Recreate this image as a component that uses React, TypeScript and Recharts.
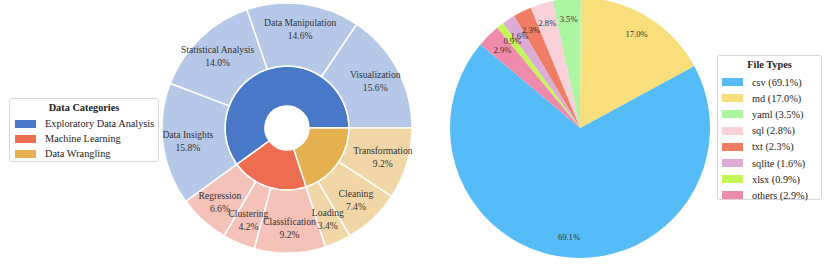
import React from 'react';
import { PieChart, Pie, Cell } from 'recharts';

// left sunburst: inner ring categories
const categoryNames = ['Exploratory Data Analysis', 'Machine Learning', 'Data Wrangling'];
const categoryValues = [60.0, 20.0, 20.0];
const categoryColors = ['#4a78c9', '#ee6d50', '#e4b050'];
const categoryLight = ['#b5c8e8', '#f5c2b8', '#f1d7a8'];

// left sunburst: outer ring, counterclockwise from 3 o'clock
const subNames = [
  'Visualization', 'Data Manipulation', 'Statistical Analysis', 'Data Insights',
  'Regression', 'Clustering', 'Classification',
  'Loading', 'Cleaning', 'Transformation'
];
const subValues = [15.6, 14.6, 14.0, 15.8, 6.6, 4.2, 9.2, 3.4, 7.4, 9.2];
const subParent = [0, 0, 0, 0, 1, 1, 1, 2, 2, 2];

// right pie: file types
const fileTypes = ['csv', 'md', 'yaml', 'sql', 'txt', 'sqlite', 'xlsx', 'others'];
const fileShares = [69.1, 17.0, 3.5, 2.8, 2.3, 1.6, 0.9, 2.9];
const fileColors = ['#56bcf8', '#f9de7c', '#aef5a1', '#f8d1d9', '#ee7d63', '#dcabd6', '#c3f657', '#ee8bab'];

const catData = categoryNames.map((name, i) => ({ name, value: categoryValues[i] }));
const subData = subNames.map((name, i) => ({ name, value: subValues[i] }));
const fileData = fileTypes.map((name, i) => ({ name, value: fileShares[i] }));

const RAD = Math.PI / 180;
const serif = '"Liberation Serif", "DejaVu Serif", serif';

const subLabel = (p: any) => {
  const r = 100;
  const x = p.cx + r * Math.cos(-p.midAngle * RAD);
  const y = p.cy + r * Math.sin(-p.midAngle * RAD);
  return (
    <text x={x} y={y} textAnchor="middle" fill="#333" fontSize={9.6} fontFamily={serif}>
      <tspan x={x} dy={-3}>{p.name}</tspan>
      <tspan x={x} dy={13}>{p.value.toFixed(1)}%</tspan>
    </text>
  );
};

const fileLabel = (p: any) => {
  const r = 110;
  const x = p.cx + r * Math.cos(-p.midAngle * RAD);
  const y = p.cy + r * Math.sin(-p.midAngle * RAD);
  return (
    <text x={x} y={y} textAnchor="middle" dominantBaseline="central" fill="#333" fontSize={8.6} fontFamily={serif}>
      {p.value.toFixed(1)}%
    </text>
  );
};

const legendBox: React.CSSProperties = {
  position: 'absolute',
  background: '#fff',
  border: '1px solid #d6d6d6',
  borderRadius: 3,
  fontFamily: serif,
  fontSize: 10.3,
  color: '#222',
  boxSizing: 'border-box',
};

const LegendRows = ({ names, colors, gap }: { names: string[]; colors: string[]; gap: number }) => (
  <>
    {names.map((n, i) => (
      <div key={n} style={{ display: 'flex', alignItems: 'center', height: gap, whiteSpace: 'nowrap' }}>
        <span style={{ display: 'inline-block', width: 21, height: 8, background: colors[i], marginRight: 9 }} />
        <span>{n}</span>
      </div>
    ))}
  </>
);

export default function App() {
  return (
    <div style={{ position: 'absolute', left: 0, top: 0, width: 830, height: 266, background: '#fff', overflow: 'hidden' }}>
      <PieChart width={830} height={266} margin={{ top: 0, right: 0, bottom: 0, left: 0 }}>
        <Pie
          data={catData}
          dataKey="value"
          cx={287}
          cy={128}
          innerRadius={22}
          outerRadius={62}
          startAngle={0}
          endAngle={360}
          stroke="#fff"
          strokeWidth={1.5}
          isAnimationActive={false}
        >
          {catData.map((d, i) => <Cell key={d.name} fill={categoryColors[i]} />)}
        </Pie>
        <Pie
          data={subData}
          dataKey="value"
          cx={287}
          cy={128}
          innerRadius={62}
          outerRadius={125}
          startAngle={0}
          endAngle={360}
          stroke="#fff"
          strokeWidth={1.5}
          label={subLabel}
          labelLine={false}
          isAnimationActive={false}
        >
          {subData.map((d, i) => <Cell key={d.name} fill={categoryLight[subParent[i]]} />)}
        </Pie>
        <Pie
          data={fileData}
          dataKey="value"
          cx={580}
          cy={128}
          innerRadius={0}
          outerRadius={130}
          startAngle={140}
          endAngle={500}
          stroke="none"
          label={fileLabel}
          labelLine={false}
          isAnimationActive={false}
        >
          {fileData.map((d, i) => <Cell key={d.name} fill={fileColors[i]} />)}
        </Pie>
      </PieChart>

      <div style={{ ...legendBox, left: 9, top: 98, width: 150, height: 64, padding: '2px 0 0 5px' }}>
        <div style={{ fontWeight: 'bold', textAlign: 'center', height: 15, lineHeight: '14px', paddingRight: 5 }}>Data Categories</div>
        <LegendRows names={categoryNames} colors={categoryColors} gap={15} />
      </div>

      <div style={{ ...legendBox, left: 717, top: 55, width: 105, height: 145, padding: '1px 0 0 4px' }}>
        <div style={{ fontWeight: 'bold', textAlign: 'center', height: 17, lineHeight: '16px', paddingRight: 4 }}>File Types</div>
        <LegendRows
          names={fileTypes.map((t, i) => `${t} (${fileShares[i].toFixed(1)}%)`)}
          colors={fileColors}
          gap={16.2}
        />
      </div>
    </div>
  );
}
